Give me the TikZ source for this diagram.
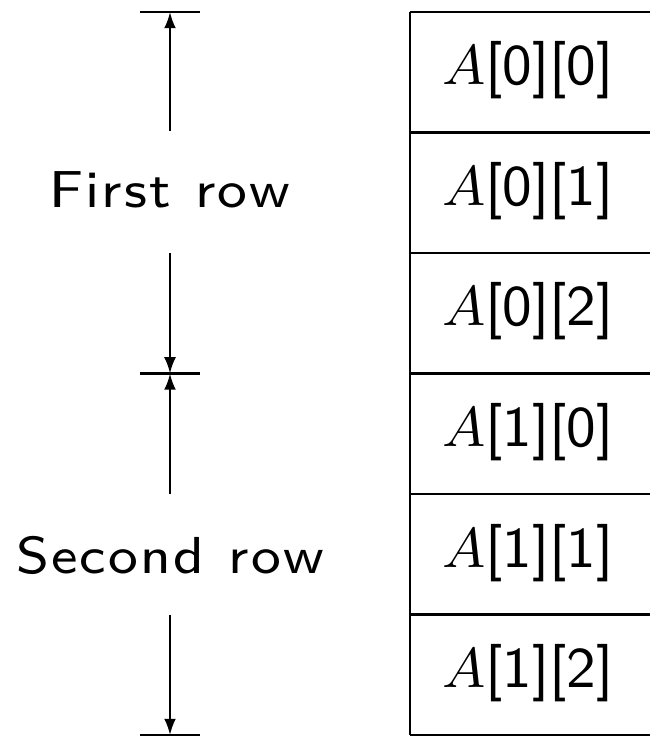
\documentclass[tikz,border=0pt]{standalone}
\usepackage{graphicx}
\usetikzlibrary{arrows.meta}
\newcommand\trk{\kern0.04em}
\newcommand\lbltext[1]{\scalebox{1.12}[1.04]{\fontsize{8}{10}\selectfont\sffamily #1}}
\begin{document}
\begin{tikzpicture}[x=0.16pt,y=-0.16pt,
  rule/.style={line width=0.36pt},
  dimarrow/.style={line width=0.36pt,-{Latex[length=2.6pt,width=1.9pt]}},
  lbl/.style={inner sep=0pt,anchor=base},
  cell/.style={font=\fontsize{9.2}{11}\selectfont\sffamily,inner sep=0pt,anchor=base}]
\useasboundingbox (0,0) rectangle (650,738);
\clip (0,0) rectangle (650,738);
% memory column
\foreach \y in {12,132.5,253,373.5,494,614.5,735}
  \draw[rule] (410,\y) -- (660,\y);
\draw[rule] (410,12) -- (410,735);
\node[cell] (c00) at (528,85) {$A$[0][0]};
\node[cell] (c01) at (528,205.5) {$A$[0][1]};
\node[cell] (c02) at (528,326) {$A$[0][2]};
\node[cell] (c10) at (528,446.5) {$A$[1][0]};
\node[cell] (c11) at (528,567) {$A$[1][1]};
\node[cell] (c12) at (528,687.5) {$A$[1][2]};
% dimension ticks
\draw[rule] (140,12) -- (200,12);
\draw[rule] (140,373.5) -- (200,373.5);
\draw[rule] (140,735) -- (200,735);
\coordinate (t0) at (170,12);
\coordinate (t1) at (170,373.5);
\coordinate (t2) at (170,735);
\coordinate (a1) at (170,131);
\coordinate (a2) at (170,253);
\coordinate (a3) at (170,494);
\coordinate (a4) at (170,615);
\node[lbl] (first) at (170,208) {\lbltext{F\trk i\trk r\trk s\trk t\trk\ \trk r\trk o\trk w}};
\node[lbl] (second) at (170,573) {\lbltext{S\trk e\trk c\trk o\trk n\trk d\trk\ \trk r\trk o\trk w}};
\draw[dimarrow] (a1) -- (t0);
\draw[dimarrow] (a2) -- (t1);
\draw[dimarrow] (a3) -- (t1);
\draw[dimarrow] (a4) -- (t2);
\end{tikzpicture}
\end{document}
